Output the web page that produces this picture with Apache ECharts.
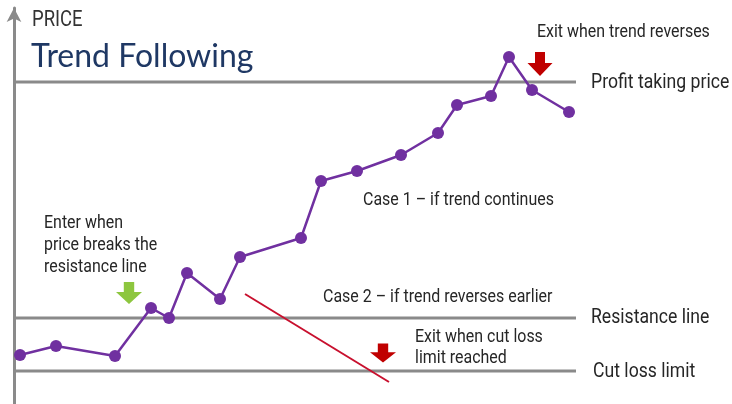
<!DOCTYPE html>
<html>
<head>
<meta charset="utf-8">
<script src="https://cdn.jsdelivr.net/npm/echarts@6/dist/echarts.min.js"></script>
<style>
  html, body { margin: 0; padding: 0; background: #fff; }
  #chart { width: 732px; height: 404px; }
</style>
</head>
<body>
<div id="chart"></div>
<script>
// time (x) and price (y) of each observation
var days = [20, 56, 115, 151, 169, 187, 220, 240, 301, 321, 357, 401, 438, 457, 491, 509, 532, 569];
var prices = [49, 58, 48, 96, 86, 131, 105, 147, 166, 223, 233, 249, 271, 299, 308, 347, 314, 292];

// price levels
var profitLevel = 322;
var resistanceLevel = 86;
var cutLossLevel = 33;
var levelSpan = [14, 576];

// case 2 reversal path
var reversalDays = [245, 389];
var reversalPrices = [110, 22];

// signal arrows: [day, price]
var enterArrow = [[129, 111]];
var exitTopArrow = [[540, 340]];
var exitBottomArrow = [[383, 51]];

var chart = echarts.init(document.getElementById("chart"));
var narrow = "Roboto, sans-serif";
var squeeze = 0.84;
var arrowPath = "path://M3,0 L7,0 L7,4.6 L10,4.6 L5,10 L0,4.6 L3,4.6 Z";

function pairs(xs, ys) {
  return xs.map(function (x, i) { return [x, ys[i]]; });
}
function level(v) {
  return [[levelSpan[0], v], [levelSpan[1], v]];
}
function lvlSeries(v) {
  return {
    type: "line",
    data: level(v),
    symbol: "none",
    silent: true,
    lineStyle: { color: "#8a8a8a", width: 3 },
    z: 1
  };
}
// x = left edge, y = middle of the text block
function label(text, x, y, size, lh, color) {
  return {
    type: "text",
    x: x,
    y: y + 2,
    scaleX: squeeze,
    style: {
      text: text,
      x: 0,
      y: 0,
      fill: color || "#262626",
      font: size + "px " + narrow,
      lineHeight: lh || size,
      textAlign: "left",
      textVerticalAlign: "middle"
    }
  };
}

var option = {
  animation: false,
  grid: { left: 14, right: 0, top: 8, bottom: 0 },
  xAxis: {
    type: "value",
    min: 14,
    max: 732,
    show: false
  },
  yAxis: {
    type: "value",
    min: 0,
    max: 396,
    splitLine: { show: false },
    axisTick: { show: false },
    axisLabel: { show: false },
    axisLine: {
      show: true,
      symbol: ["none", "arrow"],
      symbolSize: [11, 14],
      lineStyle: { color: "#8a8a8a", width: 3 }
    }
  },
  series: [
    lvlSeries(profitLevel),
    lvlSeries(resistanceLevel),
    lvlSeries(cutLossLevel),
    {
      type: "line",
      data: pairs(reversalDays, reversalPrices),
      symbol: "none",
      lineStyle: { color: "#c8102e", width: 2 },
      z: 2
    },
    {
      type: "line",
      data: pairs(days, prices),
      symbol: "circle",
      symbolSize: 12,
      itemStyle: { color: "#7030a0" },
      lineStyle: { color: "#7030a0", width: 2.5 },
      z: 3
    },
    {
      type: "scatter",
      data: enterArrow,
      symbol: arrowPath,
      symbolSize: [26, 22],
      itemStyle: { color: "#8dc63f", opacity: 1 }
    },
    {
      type: "scatter",
      data: exitTopArrow,
      symbol: arrowPath,
      symbolSize: [25, 24],
      itemStyle: { color: "#c00000", opacity: 1 }
    },
    {
      type: "scatter",
      data: exitBottomArrow,
      symbol: arrowPath,
      symbolSize: [26, 19],
      itemStyle: { color: "#c00000", opacity: 1 }
    }
  ],
  graphic: [
    label("PRICE", 32, 18, 22, null, "#333333"),
    {
      type: "text",
      x: 31,
      y: 57,
      style: {
        text: "Trend Following",
        x: 0,
        y: 0,
        fill: "#1f3864",
        font: "32px Lato, 'Open Sans', sans-serif",
        textVerticalAlign: "middle"
      }
    },
    label("Exit when trend reverses", 537, 30, 19),
    label("Profit taking price", 591, 81, 21),
    label("Case 1 \u2013 if trend continues", 363, 198, 19),
    label("Case 2 \u2013 if trend reverses earlier", 323, 295, 19),
    label("Resistance line", 591, 316, 21),
    label("Exit when cut loss\nlimit reached", 415, 345.5, 19, 21),
    label("Cut loss limit", 593, 370, 21),
    label("Enter when\nprice breaks the\nresistance line", 44, 243.5, 19, 22)
  ]
};

chart.setOption(option);
</script>
</body>
</html>
